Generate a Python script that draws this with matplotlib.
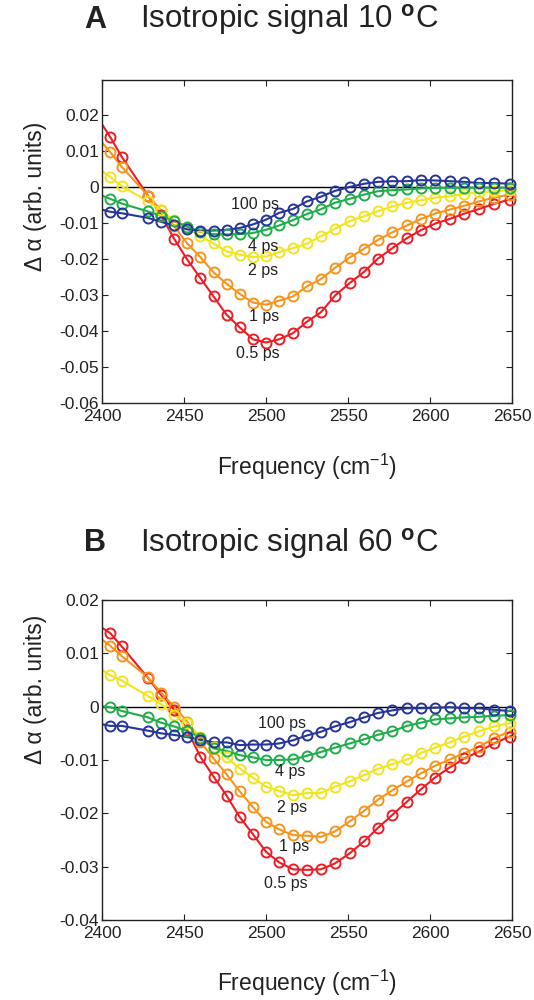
import matplotlib
matplotlib.use("Agg")
import matplotlib.pyplot as plt

plt.rcParams['font.family'] = ['Liberation Sans', 'DejaVu Sans']
plt.rcParams['mathtext.fontset'] = 'custom'
plt.rcParams['mathtext.rm'] = 'Liberation Sans'
plt.rcParams['mathtext.bf'] = 'Liberation Sans:bold'

# ---------------- data ----------------
freq = [2405, 2412, 2428, 2436, 2444, 2452, 2460, 2468, 2476, 2484, 2492, 2500,
        2508, 2516.5, 2525, 2533.5, 2542, 2551, 2560, 2568, 2577, 2586, 2594.5,
        2603, 2612, 2621, 2630, 2639, 2648.5]
delays = ['0.5 ps', '1 ps', '2 ps', '4 ps', '100 ps']
colors = ['#ee1c25', '#f7941d', '#f2e41e', '#1fae4b', '#27359a']

a_05 = [0.0139, 0.0084, -0.0024, -0.0078, -0.0144, -0.0202, -0.0253, -0.0304, -0.0355, -0.0390,
        -0.0423, -0.0432, -0.0423, -0.0406, -0.0374, -0.0348, -0.0302, -0.0267, -0.0235, -0.0200,
        -0.0170, -0.0142, -0.0120, -0.0102, -0.0089, -0.0074, -0.0061, -0.0047, -0.0035]
a_1 = [0.0097, 0.0056, -0.0024, -0.0065, -0.0109, -0.0157, -0.0195, -0.0237, -0.0269, -0.0297,
       -0.0321, -0.0327, -0.0316, -0.0304, -0.0276, -0.0256, -0.0225, -0.0196, -0.0171, -0.0148,
       -0.0126, -0.0107, -0.0089, -0.0074, -0.0063, -0.0052, -0.0040, -0.0030, -0.0021]
a_2 = [0.0028, 0.0002, -0.0040, -0.0065, -0.0093, -0.0114, -0.0137, -0.0157, -0.0179, -0.0188,
       -0.0195, -0.0193, -0.0181, -0.0170, -0.0157, -0.0137, -0.0116, -0.0095, -0.0081, -0.0068,
       -0.0054, -0.0044, -0.0037, -0.0030, -0.0026, -0.0019, -0.0015, -0.0012, -0.0009]
a_4 = [-0.0033, -0.0046, -0.0068, -0.0080, -0.0095, -0.0110, -0.0125, -0.0131, -0.0132, -0.0131,
       -0.0128, -0.0119, -0.0107, -0.0092, -0.0075, -0.0062, -0.0044, -0.0033, -0.0021, -0.0012,
       -0.0009, -0.0007, -0.0004, -0.0003, -0.0002, -0.0002, -0.0002, -0.0002, -0.0002]
a_100 = [-0.0069, -0.0073, -0.0086, -0.0097, -0.0107, -0.0118, -0.0121, -0.0121, -0.0119, -0.0114,
         -0.0104, -0.0091, -0.0072, -0.0061, -0.0040, -0.0027, -0.0011, 0.0000, 0.0009, 0.0014,
         0.0016, 0.0016, 0.0019, 0.0018, 0.0016, 0.0014, 0.0011, 0.0011, 0.0009]
a_edge_left = [0.0174, 0.0123, 0.0044, -0.0024, -0.0063]
a_edge_right = [-0.0033, -0.0020, -0.0008, -0.0002, 0.0009]

b_05 = [0.0138, 0.0113, 0.0054, 0.0022, -0.0006, -0.0044, -0.0094, -0.0131, -0.0167, -0.0207,
        -0.0239, -0.0272, -0.0292, -0.0305, -0.0306, -0.0305, -0.0294, -0.0275, -0.0252, -0.0228,
        -0.0203, -0.0178, -0.0155, -0.0133, -0.0114, -0.0097, -0.0084, -0.0069, -0.0056]
b_1 = [0.0114, 0.0095, 0.0055, 0.0026, 0.0000, -0.0028, -0.0066, -0.0097, -0.0127, -0.0159,
       -0.0188, -0.0216, -0.0230, -0.0241, -0.0242, -0.0244, -0.0234, -0.0215, -0.0195, -0.0175,
       -0.0157, -0.0140, -0.0125, -0.0111, -0.0099, -0.0087, -0.0075, -0.0059, -0.0047]
b_2 = [0.0059, 0.0049, 0.0020, 0.0005, -0.0016, -0.0031, -0.0056, -0.0075, -0.0095, -0.0116,
       -0.0133, -0.0150, -0.0158, -0.0166, -0.0162, -0.0162, -0.0150, -0.0140, -0.0128, -0.0117,
       -0.0108, -0.0099, -0.0087, -0.0077, -0.0067, -0.0056, -0.0046, -0.0037, -0.0031]
b_4 = [-0.0001, -0.0008, -0.0020, -0.0030, -0.0037, -0.0046, -0.0058, -0.0078, -0.0083, -0.0091,
       -0.0095, -0.0100, -0.0100, -0.0099, -0.0092, -0.0085, -0.0077, -0.0069, -0.0061, -0.0053,
       -0.0046, -0.0036, -0.0030, -0.0024, -0.0022, -0.0020, -0.0019, -0.0017, -0.0016]
b_100 = [-0.0036, -0.0036, -0.0045, -0.0050, -0.0053, -0.0057, -0.0062, -0.0067, -0.0067, -0.0072,
         -0.0071, -0.0071, -0.0069, -0.0063, -0.0054, -0.0047, -0.0037, -0.0029, -0.0020, -0.0012,
         -0.0007, -0.0003, -0.0003, -0.0002, -0.0001, -0.0003, -0.0003, -0.0006, -0.0008]
b_edge_left = [0.0148, 0.0126, 0.0069, 0.0001, -0.0033]
b_edge_right = [-0.0054, -0.0045, -0.0030, -0.0016, -0.0008]

# label anchor positions (freq, value) for each delay
a_label_pos = [(2495, -0.0462), (2499, -0.0360), (2498, -0.0232), (2498, -0.0165), (2493, -0.0049)]
b_label_pos = [(2512, -0.0331), (2517, -0.0262), (2516, -0.0189), (2515, -0.0122), (2510, -0.0031)]

a_yticks = [0.02, 0.01, 0, -0.01, -0.02, -0.03, -0.04, -0.05, -0.06]
b_yticks = [0.02, 0.01, 0, -0.01, -0.02, -0.03, -0.04]
xticks = [2400, 2450, 2500, 2550, 2600, 2650]

# ---------------- figure ----------------
fig = plt.figure(figsize=(5.34, 10.0), dpi=100)
axA = fig.add_axes([102/534, 1-403/1000, 410/534, 323/1000])
axB = fig.add_axes([102/534, 1-920/1000, 410/534, 320/1000])

TXT = '#222222'


def fmt(v):
    if v == 0:
        return '0'
    return ('%.2f' % v)


def draw(ax, series, eleft, eright, labpos, ylim, yticks):
    ax.axhline(0, color='black', lw=1.0, zorder=1)
    for s, c, el, er, lab, lp in zip(series, colors, eleft, eright, delays, labpos):
        ax.plot([2400] + freq + [2650], [el] + s + [er], '-', color=c, lw=1.5, zorder=2)
        ax.plot(freq, s, 'o', mfc='none', mec=c, mew=1.4, ms=7.2, zorder=3, clip_on=False)
        ax.text(lp[0], lp[1], lab, ha='center', va='center', fontsize=11.5, color=TXT, zorder=4)
    ax.set_xlim(2400, 2650)
    ax.set_ylim(*ylim)
    ax.set_xticks(xticks)
    ax.set_yticks(yticks)
    ax.set_yticklabels([fmt(v) for v in yticks])
    ax.tick_params(direction='in', top=True, right=True, length=4, width=0.8,
                   labelsize=12.5, pad=2, colors=TXT)
    ax.tick_params(axis='x', pad=4)
    for sp in ax.spines.values():
        sp.set_linewidth(1.0)
        sp.set_color(TXT)
    ax.set_xlabel('Frequency (cm$^{\\mathregular{-1}}$)', fontsize=16.5, color=TXT)
    ax.set_ylabel('\u0394 \u03b1 (arb. units)', fontsize=16.5, color=TXT)


draw(axA, [a_05, a_1, a_2, a_4, a_100], a_edge_left, a_edge_right, a_label_pos,
     (-0.06, 0.0297), a_yticks)
draw(axB, [b_05, b_1, b_2, b_4, b_100], b_edge_left, b_edge_right, b_label_pos,
     (-0.04, 0.02), b_yticks)

axA.xaxis.set_label_coords(0.5, -0.150)
axB.xaxis.set_label_coords(0.5, -0.150)
axA.yaxis.set_label_coords(-0.135, 0.64)
axB.yaxis.set_label_coords(-0.135, 0.72)

fig.text(95/534, 1-20/1000, 'A', fontsize=22, fontweight='bold', ha='center', va='center', color=TXT)
fig.text(140/534, 1-20/1000, 'Isotropic signal 10 $^{\\mathbf{o}}$C', fontsize=22.5, ha='left', va='center', color=TXT)
fig.text(95/534, 1-543/1000, 'B', fontsize=22, fontweight='bold', ha='center', va='center', color=TXT)
fig.text(140/534, 1-543/1000, 'Isotropic signal 60 $^{\\mathbf{o}}$C', fontsize=22.5, ha='left', va='center', color=TXT)

fig.savefig('out.png', dpi=100)
